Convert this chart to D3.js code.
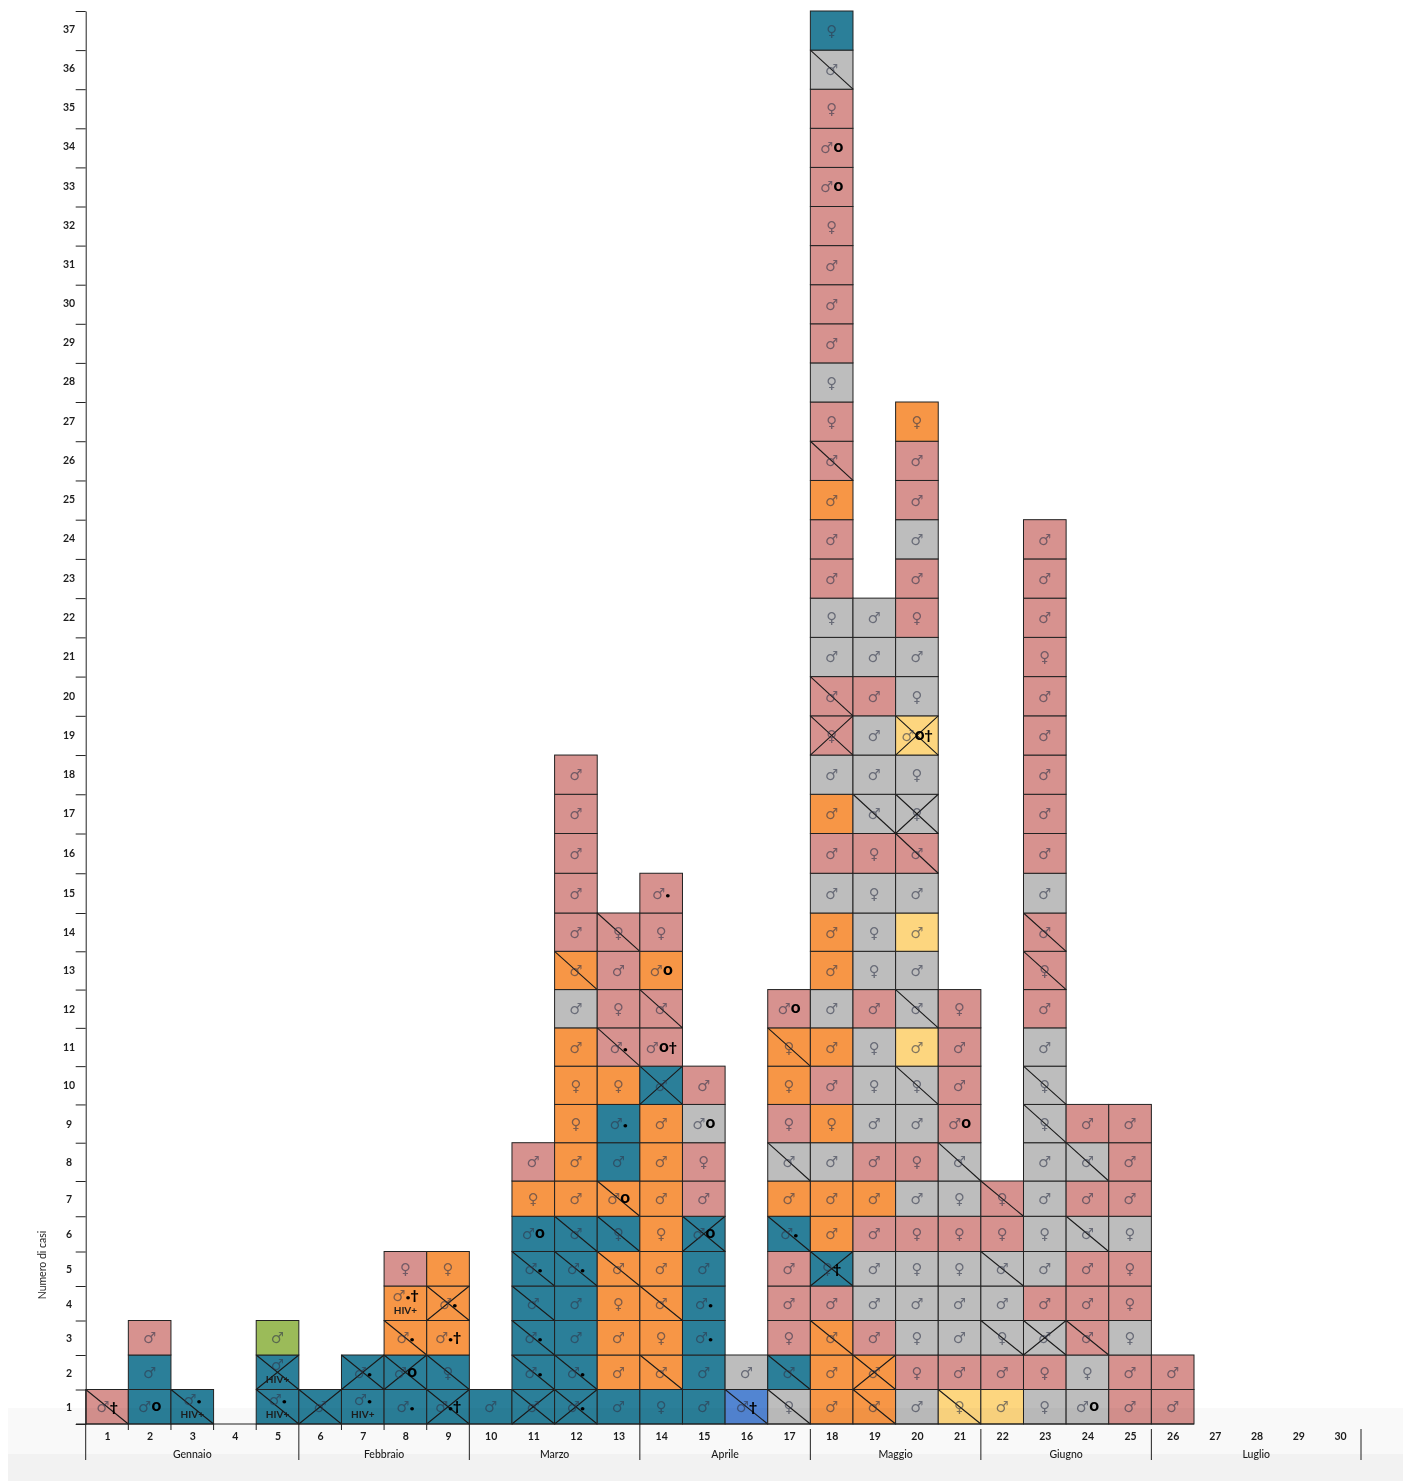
<!DOCTYPE html>
<html>
<head>
<meta charset="utf-8">
<script src="https://cdn.jsdelivr.net/npm/d3@7"></script>
<style>
  html, body { margin: 0; padding: 0; background: #fff; }
  svg { display: block; filter: blur(0.35px); }
  text { font-family: Lato, "Open Sans", sans-serif; fill: #1d1d1d; }
</style>
</head>
<body>
<div id="main"></div>
<script>
const weeks = d3.range(1, 31);

const months = ["Gennaio", "Febbraio", "Marzo", "Aprile", "Maggio", "Giugno", "Luglio"];
// first and last week of each month
const monthStart = [1, 6, 10, 14, 18, 22, 26];
const monthEnd = [5, 9, 13, 17, 21, 25, 30];

// one string per week, one character per case, from the bottom up
const caseColors = [
  "P", "TTP", "T", "", "TTV", "T", "TT", "TTOOP", "TTOOO", "T",
  "TTTTTTOP", "TTTTTTOOOOOGOPPPPP", "TOOOOTOTTOPPPP", "TOOOOOOOOTPPOPP", "TTTTTTPPGP",
  "BG", "GTPPPTOGPOOP", "OOOPTOOGOPOGOOGPOGPPGGPPOPPGPPPPPPPGT",
  "OOPGGPOPGGGPGGGPGGGPGG", "GPGGGPGPGGYGGYGPGGYGGPPGPPO",
  "YPGGGPGGPPPP", "YPGGGPP", "GPGPGGGGGGGPPPGPPPPPPPPP", "GGPPPGPGP", "PPGPPGPPP", "PP",
  "", "", "", ""
];
const caseSex = [
  "m", "mmm", "m", "", "mmm", "m", "mm", "mmmmf", "mfmmf", "m",
  "mmmmmmfm", "mmmmmmmmffmmmmmmmm", "mmmfmfmmmfmfmf", "fmfmmfmmmmmmmfm", "mmmmmmmfmm",
  "mm", "fmfmmmmmfffm", "mmmmfmmmfmmmmmmmmmfmmfmmmmffmmmfmmfmf",
  "mmmmmmmmmffmffffmmmmmm", "mffmffmfmfmmmmmmffmfmfmmmmf",
  "fmmmfffmmmmf", "mmfmmff", "ffmmmfmmffmmfmmmmmmmfmmm", "mfmmmmmmm", "mmffffmmm", "mm",
  "", "", "", ""
];
// "/" one diagonal, "x" both diagonals
const caseStrike = [
  "/", "---", "/", "", "/x-", "x", "-x", "-x/--", "x/-x-", "-",
  "x////---", "x/--//------/-----", "----///---/--/", "-/-/-----x-/---", "-----x----",
  "/-", "//---/-/--/-", "--/-x-------------x/-----/---------/-",
  "/x--------------/-----", "---------/-/---/x-x--------",
  "/------/----", "--/-/-/", "--x-----//--//----------", "--/--/-/-", "---------", "--",
  "", "", "", ""
];
// d dot, o ring, t dagger, D dot+dagger, R ring+dagger, H HIV+, J dot+HIV+, K dot+dagger+HIV+
const caseNotes = [
  "t", "o..", "J", "", "JH.", ".", "Jd", "dodK.", "D.Dd.", ".",
  ".dd.do..", "dd..d.............", "......o.d.d...", "..........R.o.d", "..dd.o..o.",
  "t.", ".....d.....o", "....t...........................oo...",
  "......................", "..................R........",
  "........o...", ".......", "........................", "o........", ".........", "..",
  "", "", "", ""
];

const colors = {
  P: "#d7928f", T: "#2b7f99", O: "#f79646", G: "#bdbdbd",
  Y: "#fdd67f", V: "#9bbb59", B: "#5285d2"
};
const noteText = { ".": "", d: "•", o: "o", t: "†", D: "•†", R: "o†", H: "", J: "•", K: "•†" };
const noteSize = { "•": 8, "o": 17, "†": 14 };
const sexText = { m: "♂", f: "♀" };

// week edges: the last four columns of the original are a little narrower
let x = d3.scaleLinear().domain([1, 27, 31]).range([85.7, 1194, 1361]);
// the rows of the original are not quite even, hence the extra knots
let y = d3.scaleLinear().domain([0, 5, 7, 14, 16, 27, 37]).range([1424, 1251.5, 1181, 913, 833.5, 402, 11]);

let svg = d3.select("#main").append("svg").attr("width", 1409).attr("height", 1481);

let cells = weeks.flatMap((week, w) => Array.from(caseColors[w], (color, i) => ({
  week: week,
  row: i + 1,
  color: color,
  sex: caseSex[w][i],
  strike: caseStrike[w][i],
  note: caseNotes[w][i]
})));

let left = d => x(d.week);
let right = d => x(d.week + 1);
let hasHiv = d => "HJK".includes(d.note);

// bars
let cell = svg.append("g").selectAll("g").data(cells).enter().append("g");

cell.append("rect")
  .attr("x", left)
  .attr("y", d => y(d.row))
  .attr("width", d => right(d) - left(d))
  .attr("height", d => y(d.row - 1) - y(d.row))
  .attr("fill", d => colors[d.color])
  .attr("stroke", "#222")
  .attr("stroke-width", 1);

cell.filter(d => d.strike !== "-").append("path")
  .attr("d", d => {
    let p = d3.path();
    p.moveTo(left(d), y(d.row));
    p.lineTo(right(d), y(d.row - 1));
    if (d.strike === "x") {
      p.moveTo(left(d), y(d.row - 1));
      p.lineTo(right(d), y(d.row));
    }
    return p.toString();
  })
  .attr("stroke", "#1a1a1a")
  .attr("stroke-width", 1.1)
  .attr("fill", "none");

// sex symbol with its notes
let label = cell.append("text")
  .attr("x", d => (left(d) + right(d)) / 2)
  .attr("y", d => (y(d.row) + y(d.row - 1)) / 2 + (hasHiv(d) ? -2 : 5.5))
  .attr("text-anchor", "middle");

label.append("tspan")
  .text(d => sexText[d.sex])
  .style("font-family", "'DejaVu Sans'")
  .style("font-size", "15px")
  .style("fill", "#30354a99");

label.selectAll("tspan.note")
  .data(d => Array.from(noteText[d.note]))
  .enter().append("tspan")
  .attr("class", "note")
  .attr("dy", c => c === "†" ? 0 : -1)
  .text(c => c)
  .style("font-weight", 900)
  .style("font-size", c => noteSize[c] + "px")
  .style("fill", "#000");

cell.filter(hasHiv).append("text")
  .attr("x", d => (left(d) + right(d)) / 2)
  .attr("y", d => (y(d.row) + y(d.row - 1)) / 2 + 11)
  .attr("text-anchor", "middle")
  .style("font-size", "10px")
  .style("font-weight", 700)
  .text("HIV+");

// y axis
let rowsAxis = svg.append("g")
  .attr("transform", "translate(85.7,0)")
  .call(d3.axisLeft(y).tickValues(d3.range(0, 38)).tickSize(10).tickSizeOuter(0).tickFormat(""));
rowsAxis.selectAll("path, line").attr("stroke", "#222");

svg.append("g").selectAll("text").data(d3.range(1, 38)).enter().append("text")
  .attr("x", 69)
  .attr("y", d => (y(d) + y(d - 1)) / 2 + 4.5 - d * 0.055)
  .attr("text-anchor", "middle")
  .style("font-size", "10.5px")
  .style("font-weight", 700)
  .text(d => d);

svg.append("text")
  .attr("transform", "translate(46,1265) rotate(-90)")
  .attr("text-anchor", "middle")
  .style("font-size", "10.5px")
  .text("Numero di casi");

// x axis
svg.append("line")
  .attr("x1", 76).attr("x2", x(27))
  .attr("y1", y(0)).attr("y2", y(0))
  .attr("stroke", "#222");

let weeksAxis = svg.append("g")
  .attr("transform", "translate(0," + y(0) + ")")
  .call(d3.axisBottom(x)
    .tickValues(weeks.map(w => w + 0.5))
    .tickFormat(d => d - 0.5)
    .tickSize(0)
    .tickPadding(9));
weeksAxis.select(".domain").remove();
weeksAxis.selectAll("text")
  .style("font-family", "Lato")
  .style("font-size", "10.5px")
  .style("font-weight", 700);

svg.append("g").selectAll("line").data(d3.range(2, 10).filter(w => !monthStart.includes(w))).enter().append("line")
  .attr("x1", d => x(d)).attr("x2", d => x(d))
  .attr("y1", y(0)).attr("y2", y(0) + 6)
  .attr("stroke", "#222");

let separators = [monthStart[0]].concat(monthEnd.map(w => w + 1));
svg.append("g").selectAll("line").data(separators).enter().append("line")
  .attr("x1", d => x(d))
  .attr("x2", d => x(d))
  .attr("y1", d => d >= 18 ? y(0) + 5 : y(0))
  .attr("y2", y(0) + 36)
  .attr("stroke", "#222");

svg.append("g").selectAll("text").data(months).enter().append("text")
  .attr("x", (d, i) => (x(monthStart[i]) + x(monthEnd[i] + 1)) / 2)
  .attr("y", y(0) + 33.5)
  .attr("text-anchor", "middle")
  .style("font-size", "10.5px")
  .style("font-weight", 500)
  .text(d => d);

// faint page shading at the foot of the original
svg.append("rect").attr("x", 8).attr("y", 1408).attr("width", 1395).attr("height", 46)
  .attr("fill", "#000").attr("opacity", 0.025);
svg.append("rect").attr("x", 8).attr("y", 1454).attr("width", 1395).attr("height", 27)
  .attr("fill", "#000").attr("opacity", 0.05);
</script>
</body>
</html>
